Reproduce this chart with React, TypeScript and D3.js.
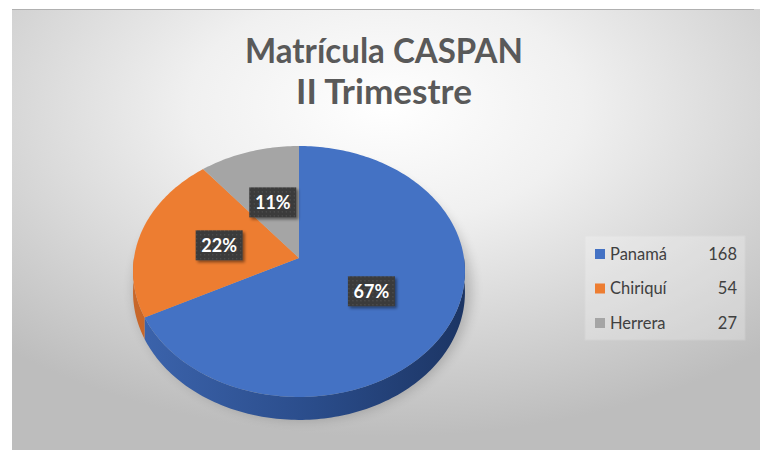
import React from "react";
import * as d3 from "d3";

const categories = ["Panamá", "Chiriquí", "Herrera"];
const values = [168, 54, 27];
const topColors = ["#4472C4", "#ED7D31", "#A5A5A5"];
const sideColors = [["#3c64ad", "#2a4c8a", "#1c3564"], ["#c8672a", "#b35a22", "#9a4c1c"], ["#8c8c8c", "#7a7a7a", "#666666"]];
const titleLines = ["Matrícula CASPAN", "II Trimestre"];
const titleWidths = [278, 176];

const W = 760, H = 450;
const CX = 299, CY = 258, R = 165, K = 0.1075, A = 0.7515, DEPTH = 20.5;

function proj(theta: number, f = 1, down = 0): [number, number] {
  const u = R * f * Math.sin(theta);
  const v = R * f * Math.cos(theta);
  const s = 1 / (1 + (K * v) / R);
  return [CX + u * s, CY - v * A * s + down * s];
}

function arcPts(a0: number, a1: number, down = 0): [number, number][] {
  const n = Math.max(2, Math.ceil(Math.abs(a1 - a0) / 0.02));
  return d3.range(n + 1).map((i) => proj(a0 + ((a1 - a0) * i) / n, 1, down));
}

export default function App() {
  const pie = d3.pie<number>().sort(null).startAngle(0).endAngle(2 * Math.PI)(values);
  const total = d3.sum(values);
  const line = d3.line();

  const sides: JSX.Element[] = [];
  pie.forEach((p, i) => {
    const s0 = Math.max(p.startAngle, Math.PI / 2);
    const s1 = Math.min(p.endAngle, (3 * Math.PI) / 2);
    if (s1 > s0) {
      const top = arcPts(s0, s1);
      const bot = arcPts(s1, s0, DEPTH);
      sides.push(
        <path key={"s" + i} d={line([...top, ...bot])! + "Z"} fill={`url(#side${i})`} />
      );
    }
  });

  const tops = pie.map((p, i) => {
    const pts = [proj(0, 0), ...arcPts(p.startAngle, p.endAngle)];
    return <path key={"t" + i} d={line(pts as [number, number][])! + "Z"} fill={topColors[i]} />;
  });

  const labels = pie.map((p, i) => {
    const mid = (p.startAngle + p.endAngle) / 2;
    const [x, y] = proj(mid, 0.5);
    const txt = Math.round((values[i] / total) * 100) + "%";
    const bw = 47, bh = 30;
    return (
      <g key={"l" + i} transform={`translate(${x},${y})`}>
        <rect x={-bw / 2} y={-bh / 2} width={bw} height={bh} fill="url(#dots)" filter="url(#lblShadow)" />
        <text x={0} y={6.5} textAnchor="middle" fill="#ffffff" fontSize={18} fontWeight={700} fontFamily="Lato, 'Open Sans', sans-serif">
          {txt}
        </text>
      </g>
    );
  });

  const legendX = 585, legendY = 236, rowH = 34.5;

  return (
    <svg width={W} height={H} style={{ position: "absolute", left: 0, top: 0 }}>
      <defs>
        <radialGradient id="bg" cx="50%" cy="22%" r="75%" fx="50%" fy="22%">
          <stop offset="0%" stopColor="#ffffff" />
          <stop offset="35%" stopColor="#f0f0f0" />
          <stop offset="100%" stopColor="#bdbdbd" />
        </radialGradient>
        {sideColors.map((c, i) => (
          <linearGradient key={i} id={`side${i}`} gradientUnits="userSpaceOnUse" x1={CX - R} y1={0} x2={CX + R} y2={0}>
            <stop offset="0%" stopColor={c[0]} />
            <stop offset="55%" stopColor={c[1]} />
            <stop offset="100%" stopColor={c[2]} />
          </linearGradient>
        ))}
        <pattern id="dots" width={4} height={4} patternUnits="userSpaceOnUse">
          <rect width={4} height={4} fill="#3b3b3b" />
          <rect x={1} y={1} width={1} height={1} fill="#5a5a5a" />
        </pattern>
        <filter id="lblShadow" x="-30%" y="-30%" width="160%" height="160%">
          <feDropShadow dx={2} dy={2} stdDeviation={1.5} floodColor="#000" floodOpacity={0.45} />
        </filter>
        <filter id="pieShadow" x="-20%" y="-20%" width="140%" height="140%">
          <feGaussianBlur stdDeviation={6} />
        </filter>
      </defs>
      <rect x={12} y={9} width={W - 12} height={H - 9} fill="url(#bg)" />
      <line x1={12} y1={9.5} x2={W - 6} y2={9.5} stroke="#b0b0b0" strokeWidth={1} />

      {titleLines.map((t, i) => (
        <text key={i} x={384} y={63 + i * 41} textAnchor="middle" fill="#595959" fontSize={35} fontWeight={700}
          textLength={titleWidths[i]} lengthAdjust="spacingAndGlyphs" fontFamily="Lato, 'Open Sans', sans-serif">
          {t}
        </text>
      ))}

      <ellipse cx={CX + 4} cy={CY + 30} rx={R + 4} ry={R * A + 8} fill="#000" opacity={0.18} filter="url(#pieShadow)" />
      {sides}
      {tops}
      {labels}

      <rect x={legendX} y={legendY} width={160} height={104} fill="#ffffff" opacity={0.25} stroke="#e6e6e6" />
      {categories.map((c, i) => (
        <g key={c} transform={`translate(${legendX},${legendY + 18 + i * rowH})`}>
          <rect x={10} y={-5} width={10} height={10} fill={topColors[i]} />
          <text x={25} y={5.5} fontSize={16.5} fill="#404040" fontFamily="Lato, 'Open Sans', sans-serif">
            {c}
          </text>
          <text x={152} y={5.5} fontSize={16.5} fill="#404040" textAnchor="end" fontFamily="Lato, 'Open Sans', sans-serif">
            {values[i]}
          </text>
        </g>
      ))}
    </svg>
  );
}
